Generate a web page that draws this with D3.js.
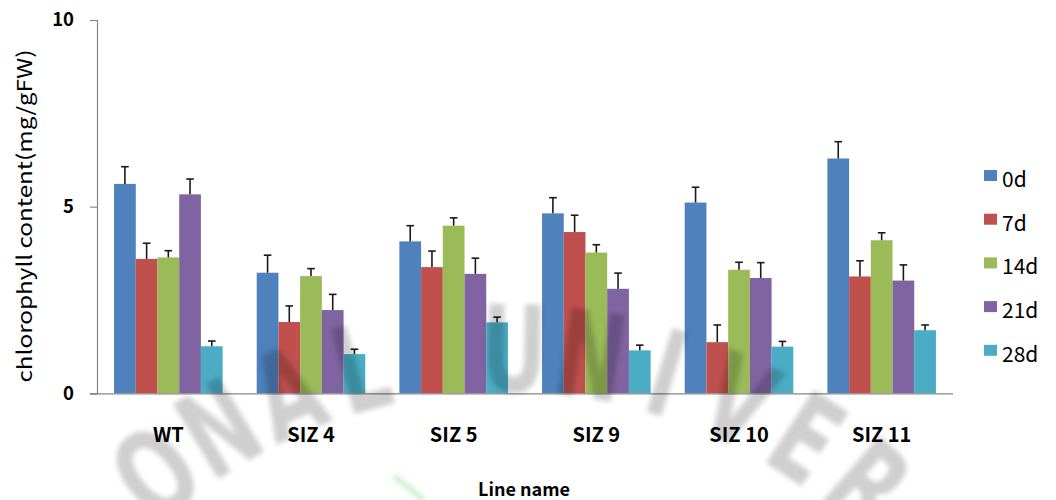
<!DOCTYPE html>
<html>
<head>
<meta charset="utf-8">
<script src="https://cdn.jsdelivr.net/npm/d3@7"></script>
<style>
  html, body { margin: 0; padding: 0; background: #fff; }
  svg { display: block; }
</style>
</head>
<body>
<svg id="chart" width="1056" height="500"></svg>
<script>
// Lines and sampling days
const lines = ["WT", "SIZ 4", "SIZ 5", "SIZ 9", "SIZ 10", "SIZ 11"];
const days = ["0d", "7d", "14d", "21d", "28d"];
const dayColors = ["#4F81BD", "#C0504D", "#9BBB59", "#8064A2", "#4BACC6"];

// Chlorophyll content (mg/gFW), one array per day, ordered like `lines`
const d0  = [5.61, 3.23, 4.07, 4.82, 5.11, 6.29];
const d7  = [3.60, 1.91, 3.38, 4.32, 1.37, 3.13];
const d14 = [3.64, 3.14, 4.49, 3.77, 3.31, 4.10];
const d21 = [5.33, 2.23, 3.20, 2.80, 3.09, 3.02];
const d28 = [1.26, 1.05, 1.90, 1.15, 1.25, 1.69];

// Standard errors, same layout
const e0  = [0.46, 0.47, 0.42, 0.42, 0.41, 0.45];
const e7  = [0.42, 0.43, 0.43, 0.45, 0.46, 0.42];
const e14 = [0.18, 0.20, 0.21, 0.21, 0.20, 0.20];
const e21 = [0.41, 0.42, 0.42, 0.42, 0.41, 0.42];
const e28 = [0.14, 0.13, 0.14, 0.14, 0.14, 0.14];

const yTicks = [0, 5, 10];

const values = [d0, d7, d14, d21, d28];
const errors = [e0, e7, e14, e21, e28];

const svg = d3.select("#chart");
const axisColor = "#868686";
const fontFamily = "'Noto Sans CJK KR', 'Noto Sans', sans-serif";

const x0 = d3.scaleBand().domain(lines).range([97, 953])
  .paddingInner(0.239).paddingOuter(0.1195);
const x1 = d3.scaleBand().domain(days).range([0, x0.bandwidth()]).padding(0);
const y = d3.scaleLinear().domain([0, 10]).range([393.3, 20]);

// Bars
const rows = [];
lines.forEach((ln, i) => {
  days.forEach((d, j) => {
    rows.push({ line: ln, day: d, j, v: values[j][i], e: errors[j][i] });
  });
});

const bars = svg.append("g");
bars.selectAll("rect").data(rows).join("rect")
  .attr("x", r => x0(r.line) + x1(r.day))
  .attr("y", r => y(r.v))
  .attr("width", x1.bandwidth())
  .attr("height", r => y(0) - y(r.v))
  .attr("fill", r => dayColors[r.j]);

// Error bars (upper whisker only)
const err = svg.append("g").attr("stroke", "#1a1a1a").attr("stroke-width", 1.6);
rows.forEach(r => {
  const cx = x0(r.line) + x1(r.day) + x1.bandwidth() / 2;
  err.append("line")
    .attr("x1", cx).attr("x2", cx)
    .attr("y1", y(r.v)).attr("y2", y(r.v + r.e));
  err.append("line")
    .attr("x1", cx - 3.8).attr("x2", cx + 3.8)
    .attr("y1", y(r.v + r.e)).attr("y2", y(r.v + r.e));
});

// Y axis
const yAxis = svg.append("g").attr("transform", "translate(97,0)")
  .call(d3.axisLeft(y).tickValues(yTicks).tickSize(7).tickPadding(16).tickFormat(d3.format("d")));
yAxis.select(".domain").attr("stroke", axisColor).attr("stroke-width", 1.2);
yAxis.selectAll(".tick line").attr("stroke", axisColor).attr("stroke-width", 1.2);
yAxis.selectAll(".tick text")
  .attr("fill", "#000").attr("font-family", fontFamily)
  .attr("font-size", 18.5).attr("font-weight", "bold");

// X axis
const xAxis = svg.append("g").attr("transform", `translate(0,${y(0)})`)
  .call(d3.axisBottom(x0).tickSize(0).tickPadding(35));
xAxis.select(".domain").attr("stroke", axisColor).attr("stroke-width", 1.2)
  .attr("d", `M90,0.5H953`);
xAxis.selectAll(".tick text")
  .attr("fill", "#000").attr("font-family", fontFamily)
  .attr("font-size", 20).attr("font-weight", "bold");

// Axis titles
svg.append("text")
  .attr("transform", "translate(32,216) rotate(-90)")
  .attr("text-anchor", "middle")
  .attr("font-family", fontFamily).attr("font-size", 20.5)
  .attr("textLength", 333).attr("lengthAdjust", "spacingAndGlyphs")
  .attr("fill", "#000")
  .text("chlorophyll content(mg/gFW)");

svg.append("text")
  .attr("x", 524).attr("y", 496)
  .attr("text-anchor", "middle")
  .attr("font-family", fontFamily).attr("font-size", 18).attr("font-weight", "bold")
  .attr("fill", "#000")
  .text("Line name");

// Legend
const legend = svg.append("g");
days.forEach((d, j) => {
  const base = 187 + j * 43.7;
  legend.append("rect")
    .attr("x", 984).attr("y", base - 17).attr("width", 13).attr("height", 11)
    .attr("fill", dayColors[j]);
  legend.append("text")
    .attr("x", 1002).attr("y", base)
    .attr("font-family", fontFamily).attr("font-size", 21)
    .attr("fill", "#000")
    .text(d);
});

// Faint arched university watermark over the plot
const defs = svg.append("defs");
defs.append("filter").attr("id", "soft")
  .attr("x", "-20%").attr("y", "-20%").attr("width", "140%").attr("height", "140%")
  .append("feGaussianBlur").attr("stdDeviation", 2.6);

const wm = svg.append("g")
  .attr("filter", "url(#soft)")
  .attr("transform", "translate(505,900)");
const mark = "ONAL UNIVER";
const step = 8.05;
mark.split("").forEach((ch, i) => {
  if (ch === " ") return;
  const a = -39.3 + i * step;
  wm.append("text")
    .attr("transform", `rotate(${a}) translate(0,-550) scale(0.85,1.25)`)
    .attr("text-anchor", "middle")
    .attr("dominant-baseline", "central")
    .attr("font-family", "'DejaVu Sans', sans-serif")
    .attr("font-weight", "bold")
    .attr("font-size", 96)
    .attr("fill", "#000")
    .attr("fill-opacity", 0.19)
    .text(ch);
});

svg.append("line")
  .attr("x1", 394).attr("y1", 476).attr("x2", 424).attr("y2", 500)
  .attr("stroke", "#5fcf5f").attr("stroke-opacity", 0.35)
  .attr("stroke-width", 5).attr("filter", "url(#soft)");
</script>
</body>
</html>
